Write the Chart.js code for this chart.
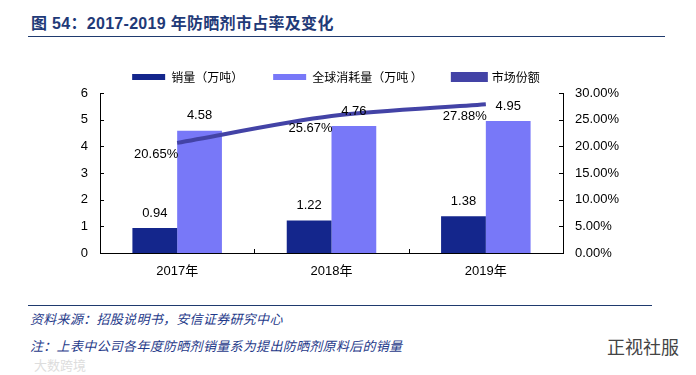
<!DOCTYPE html>
<html>
<head>
<meta charset="utf-8">
<script src="https://cdn.jsdelivr.net/npm/chart.js@4.4.0/dist/chart.umd.min.js"></script>
<style>
    body { margin: 0; background: #fff; width: 696px; height: 375px; overflow: hidden; position: relative; font-family: "Liberation Sans", Arial, "Noto Sans CJK SC", sans-serif; }
    #wrap { position: absolute; left: 0; top: 0; width: 696px; height: 290px; }
    .title { position: absolute; left: 31px; top: 10px; font-size: 16px; font-weight: bold; color: #1f3a78; letter-spacing: 0.3px; font-family: "Liberation Sans", "Noto Sans CJK SC", sans-serif; }
    .rule { position: absolute; left: 28px; height: 1px; background: #1f3a6e; }
    .note { position: absolute; left: 30px; font-size: 13px; font-style: italic; color: #1f3a8a; letter-spacing: 0.3px; font-family: "Noto Sans CJK SC", sans-serif; }
    .wm { position: absolute; font-family: "Noto Sans CJK SC", sans-serif; }
</style>
</head>
<body>
<div class="title">图 54：2017-2019 年防晒剂市占率及变化</div>
<div class="rule" style="top:36px; width:637px;"></div>
<div id="wrap"><canvas id="c"></canvas></div>
<div class="rule" style="top:305px; width:624px;"></div>
<div class="note" style="top:309px;">资料来源：招股说明书，安信证券研究中心</div>
<div class="note" style="top:336px;">注：上表中公司各年度防晒剂销量系为提出防晒剂原料后的销量</div>
<div class="wm" style="left:607px; top:333px; font-size:18px; color:#444;">正视社服</div>
<div class="wm" style="left:34px; top:355px; font-size:13px; color:#ddd;">大数跨境</div>
<script>
const years = ["2017年", "2018年", "2019年"];
const sales = [0.94, 1.22, 1.38];
const globalUse = [4.58, 4.76, 4.95];
const share = [20.65, 25.67, 27.88];
const leftTicks = [0, 1, 2, 3, 4, 5, 6];
const rightTicks = [0, 5, 10, 15, 20, 25, 30];

const labelFont = '13px "Liberation Sans", Arial, sans-serif';

// value labels and inward tick marks
const extras = {
    id: "extras",
    afterLayout(chart) {
        // legend sits a little left of centre in the original
        chart.legend.left -= 12;
        chart.legend.right -= 12;
    },
    afterDatasetsDraw(chart) {
        const ctx = chart.ctx;
        ctx.save();
        ctx.font = labelFont;
        ctx.fillStyle = "#000";
        ctx.textAlign = "center";
        ctx.textBaseline = "middle";
        [0, 1].forEach(i => {
            const meta = chart.getDatasetMeta(i);
            const vals = chart.data.datasets[i].data;
            meta.data.forEach((bar, j) => {
                ctx.fillText(vals[j].toFixed(2), bar.x, bar.y - 15);
            });
        });
        const lineMeta = chart.getDatasetMeta(2);
        lineMeta.data.forEach((pt, j) => {
            ctx.fillText(share[j].toFixed(2) + "%", pt.x - 21, pt.y + 12);
        });

        // axis ticks pointing into the plot
        const a = chart.chartArea;
        ctx.strokeStyle = "#000";
        ctx.lineWidth = 1;
        ctx.beginPath();
        const y = chart.scales.y, y1 = chart.scales.y1, x = chart.scales.x;
        leftTicks.forEach(v => {
            const py = Math.round(y.getPixelForValue(v)) + 0.5;
            ctx.moveTo(a.left, py); ctx.lineTo(a.left + 4, py);
        });
        rightTicks.forEach(v => {
            const py = Math.round(y1.getPixelForValue(v)) + 0.5;
            ctx.moveTo(a.right, py); ctx.lineTo(a.right - 4, py);
        });
        for (let k = 1; k < years.length; k++) {
            const px = Math.round((x.getPixelForValue(k - 1) + x.getPixelForValue(k)) / 2) + 0.5;
            ctx.moveTo(px, a.bottom); ctx.lineTo(px, a.bottom - 4);
        }
        ctx.stroke();
        ctx.restore();
    }
};

new Chart(document.getElementById("c"), {
    data: {
        labels: years,
        datasets: [
            {
                type: "bar",
                label: "销量（万吨）",
                data: sales,
                backgroundColor: "#14268c",
                yAxisID: "y",
                order: 2
            },
            {
                type: "bar",
                label: "全球消耗量（万吨 ）",
                data: globalUse,
                backgroundColor: "#7878f8",
                yAxisID: "y",
                order: 2
            },
            {
                type: "line",
                label: "市场份额",
                data: share,
                borderColor: "#4343a6",
                backgroundColor: "#4343a6",
                borderWidth: 4,
                pointRadius: 0,
                tension: 0.3,
                yAxisID: "y1",
                order: 1
            }
        ]
    },
    options: {
        responsive: true,
        maintainAspectRatio: false,
        animation: false,
        layout: { padding: { top: 41, left: 0, right: 0, bottom: 0 } },
        datasets: {
            bar: { categoryPercentage: 0.58, barPercentage: 1.0 }
        },
        plugins: {
            legend: {
                position: "top",
                labels: {
                    boxWidth: 33,
                    boxHeight: 6,
                    padding: 30,
                    color: "#000",
                    font: { size: 12, family: '"Noto Sans CJK SC", sans-serif' },
                    sort: (a, b) => a.datasetIndex - b.datasetIndex
                }
            },
            tooltip: { enabled: false }
        },
        scales: {
            x: {
                grid: { display: false, drawTicks: false },
                border: { color: "#000" },
                ticks: { color: "#000", font: { size: 13, family: '"Liberation Sans", "Noto Sans CJK SC", sans-serif' }, padding: 11 },
                afterFit(s) { s.height = 37; }
            },
            y: {
                position: "left",
                min: 0, max: 6,
                grid: { display: false, drawTicks: false },
                border: { color: "#000" },
                ticks: { stepSize: 1, color: "#000", font: { size: 13, family: '"Liberation Sans", Arial, sans-serif' }, padding: 12 },
                afterFit(s) { s.width = 100; }
            },
            y1: {
                position: "right",
                min: 0, max: 30,
                grid: { display: false, drawTicks: false },
                border: { color: "#000" },
                ticks: {
                    stepSize: 5,
                    color: "#000",
                    font: { size: 13, family: '"Liberation Sans", Arial, sans-serif' },
                    padding: 12,
                    callback: v => v.toFixed(2) + "%"
                },
                afterFit(s) { s.width = 133; }
            }
        }
    },
    plugins: [extras]
});
</script>
</body>
</html>
